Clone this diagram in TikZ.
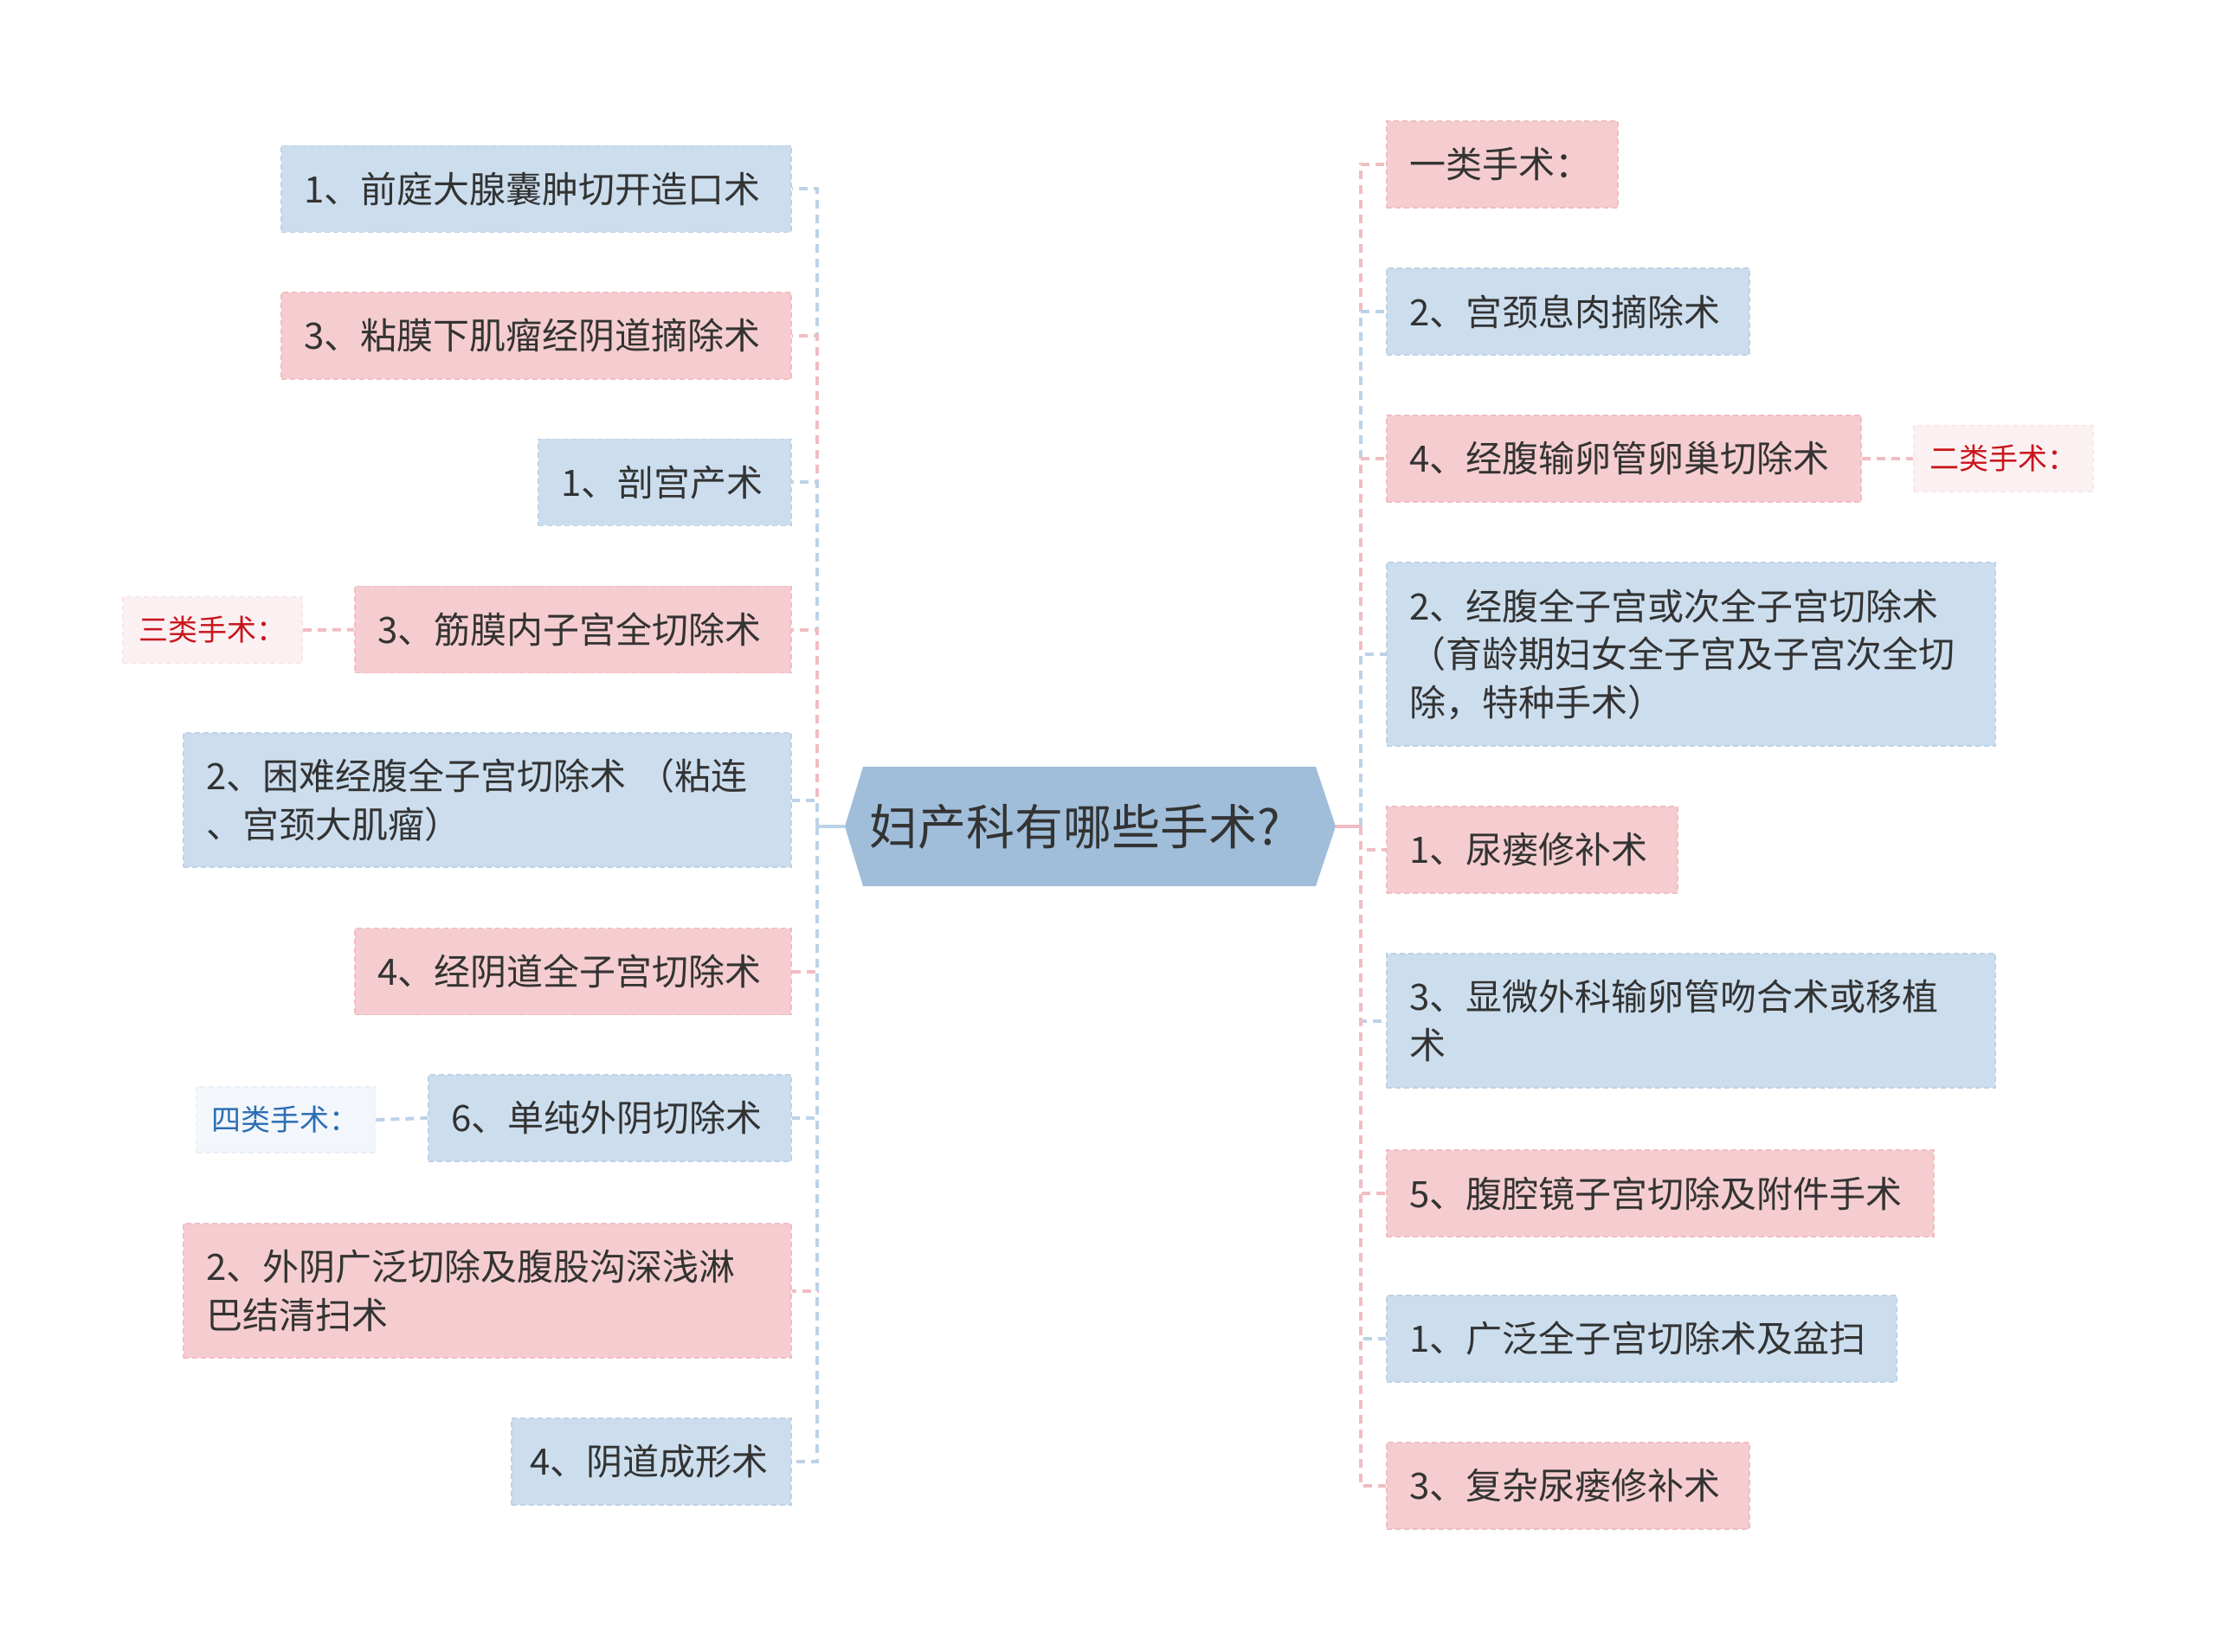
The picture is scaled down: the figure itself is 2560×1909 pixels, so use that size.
\documentclass[tikz,border=0pt]{standalone}
\usepackage{fontspec}
\newfontfamily\cjk{Noto Sans CJK SC}
\usetikzlibrary{calc}
\definecolor{bfill}{HTML}{CCDEEE}
\definecolor{pfill}{HTML}{F5CDD0}
\definecolor{bline}{HTML}{BDD2E7}
\definecolor{pline}{HTML}{F0BDC2}
\definecolor{cfill}{HTML}{A0BEDA}
\definecolor{txt}{HTML}{333333}
\definecolor{slpfill}{HTML}{FCF1F2}
\definecolor{slbfill}{HTML}{F3F7FC}
\definecolor{redtxt}{HTML}{C8161D}
\definecolor{bluetxt}{HTML}{2C6EB4}
\tikzset{
  x=0.5pt, y=-0.5pt,
  base/.style={font=\cjk\fontsize{21pt}{27.8pt}\selectfont, text=txt, align=left,
    inner xsep=13pt, inner ysep=0pt, minimum height=50pt,
    dash pattern=on 3pt off 2pt, line width=0.9pt},
  bbox/.style={base, fill=bfill, draw=bline},
  pbox/.style={base, fill=pfill, draw=pline},
  small/.style={font=\cjk\fontsize{17pt}{20pt}\selectfont, align=left,
    inner xsep=9pt, inner ysep=0pt, minimum height=38pt, text width=85.5pt,
    dash pattern=on 3pt off 2pt, line width=0.9pt},
  spbox/.style={small, fill=slpfill, draw=slpfill!80!pline, text=redtxt},
  sbbox/.style={small, fill=slbfill, draw=slbfill!80!bline, text=bluetxt},
  conn/.style={line width=2pt, dash pattern=on 5pt off 3.5pt},
  stub/.style={line width=2pt},
  hexnode/.style={font=\cjk\fontsize{28pt}{32pt}\selectfont, text=txt, align=left,
    minimum width=283.5pt, minimum height=69pt, inner xsep=14pt, inner ysep=0pt,
    text width=255.5pt,
    path picture={\fill[cfill] (path picture bounding box.west)
      -- ($(path picture bounding box.north west)+(21,0)$)
      -- ($(path picture bounding box.north east)+(-23,0)$)
      -- (path picture bounding box.east)
      -- ($(path picture bounding box.south east)+(-23,0)$)
      -- ($(path picture bounding box.south west)+(21,0)$) -- cycle;}}
}
\begin{document}
\begin{tikzpicture}
\useasboundingbox (0,0) rectangle (2560,1909);

% center
\node[hexnode] (C) at (1259.5,955) {妇产科有哪些手术?};

% left children
\node[bbox, text width=268.5pt] (L1) at (619.5,218.5) {1、前庭大腺囊肿切开造口术};
\node[pbox, text width=268.5pt] (L2) at (619.5,388) {3、粘膜下肌瘤经阴道摘除术};
\node[bbox, text width=120pt] (L3) at (768,557.5) {1、剖宫产术};
\node[pbox, text width=226pt] (L4) at (662,727.5) {3、筋膜内子宫全切除术};
\node[bbox, text width=325pt, minimum height=77.5pt] (L5) at (563,924.5) {2、困难经腹全子宫切除术 （粘连\\、宫颈大肌瘤）};
\node[pbox, text width=226pt] (L6) at (662,1122.5) {4、经阴道全子宫切除术};
\node[bbox, text width=183.5pt] (L7) at (704.5,1292) {6、单纯外阴切除术};
\node[pbox, text width=325pt, minimum height=77.5pt] (L8) at (563,1491.5) {2、外阴广泛切除及腹股沟深浅淋\\巴结清扫术};
\node[bbox, text width=140pt, inner xsep=10.75pt] (L9) at (752.5,1689) {4、阴道成形术};

% right children
\node[pbox, text width=107.5pt] (R1) at (1735.5,190) {一类手术：};
\node[bbox, text width=183.5pt] (R2) at (1811.5,360) {2、宫颈息肉摘除术};
\node[pbox, text width=248pt] (R3) at (1876,530) {4、经腹输卵管卵巢切除术};
\node[bbox, text width=325.5pt, minimum height=106pt] (R4) at (1953.5,756) {2、经腹全子宫或次全子宫切除术\\（育龄期妇女全子宫及子宫次全切\\除，特种手术）};
\node[pbox, text width=142pt] (R5) at (1770,982) {1、尿瘘修补术};
\node[bbox, text width=325.5pt, minimum height=77.5pt] (R6) at (1953.5,1179.5) {3、显微外科输卵管吻合术或移植\\术};
\node[pbox, text width=290pt] (R7) at (1918,1379) {5、腹腔镜子宫切除及附件手术};
\node[bbox, text width=268.5pt] (R8) at (1896.5,1547) {1、广泛全子宫切除术及盆扫};
\node[pbox, text width=183.5pt] (R9) at (1811.5,1717) {3、复杂尿瘘修补术};

% small labels
\node[spbox] (S3) at (245.5,728) {三类手术：};
\node[spbox] (S2) at (2314.5,530) {二类手术：};
\node[sbbox] (S4) at (330,1294) {四类手术：};

% spine points
\coordinate (LS) at (944,955);
\coordinate (RS) at (1572,955);

% left connectors
\foreach \n/\c in {L1/bline,L2/pline,L3/bline,L4/pline,L5/bline,L6/pline,L7/bline,L8/pline,L9/bline}
  \draw[conn, draw=\c] (LS) |- (\n.east);
% right connectors
\foreach \n/\c in {R1/pline,R2/bline,R3/pline,R4/bline,R5/pline,R6/bline,R7/pline,R8/bline,R9/pline}
  \draw[conn, draw=\c] (RS) |- (\n.west);

\draw[stub, draw=bline] (C.west) -- (LS);
\draw[stub, draw=pline] (C.east) -- (RS);

% label connectors
\draw[conn, draw=pline] (S3.east) -- (L4.west);
\draw[conn, draw=pline] (R3.east) -- (S2.west);
\draw[conn, draw=bline] (S4.east) -- (L7.west);
\end{tikzpicture}
\end{document}
